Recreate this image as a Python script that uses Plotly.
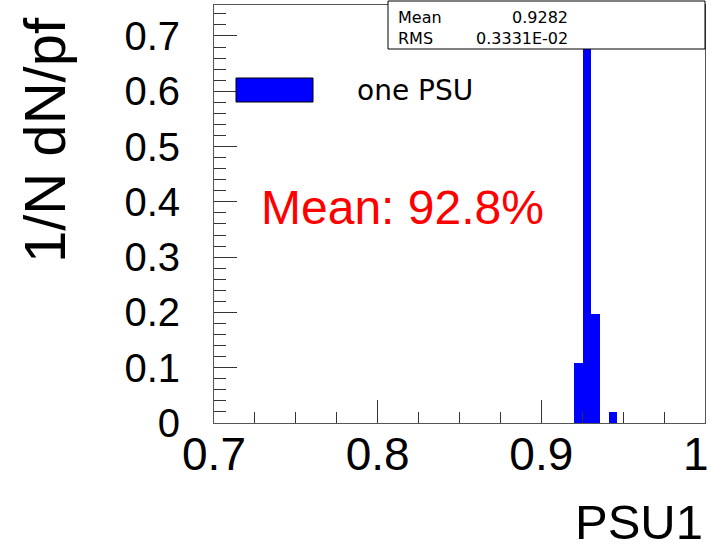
import plotly.graph_objects as go

# Normalised PSU1 distribution (1/N dN per bin)
bin_width = 0.00526
bin_lo = [0.92, 0.92526, 0.93053, 0.93579, 0.94105]
fraction = [0.108, 0.680, 0.198, 0.0, 0.019]
bin_centers = [lo + bin_width / 2 for lo in bin_lo]

stat_names = ["Mean", "RMS"]
stat_values = ["0.9282", "0.3331E-02"]
legend_label = "one PSU"
mean_label = "Mean: 92.8%"

# the label of the last x tick sits at the page edge and is placed separately
x_ticks = [0.7, 0.8, 0.9, 1.0]
x_ticktext = ["0.7", "0.8", "0.9", ""]
x_last_label = "1"
y_ticks = [0, 0.1, 0.2, 0.3, 0.4, 0.5, 0.6, 0.7]
y_ticktext = ["0", "0.1", "0.2", "0.3", "0.4", "0.5", "0.6", "0.7"]

W, H = 711, 548
ML, MR, MT, MB = 214, 6, 5, 125
PW, PH = W - ML - MR, H - MT - MB


def px(x):
    return (x - ML) / PW


def py(y):
    return (H - MB - y) / PH


fig = go.Figure()
fig.add_trace(go.Bar(
    x=bin_centers, y=fraction, width=bin_width,
    marker=dict(color="#0000ff", line=dict(width=0)),
    showlegend=False, hoverinfo="skip",
))

axis_common = dict(
    showline=True, linecolor="#555555", linewidth=1, mirror=True,
    showgrid=False, zeroline=False, ticks="inside", tickcolor="#333333",
    ticklen=23, tickwidth=1, ticklabeloverflow="allow", automargin=False,
)

fig.update_xaxes(
    range=[0.7, 1.00001], tickvals=x_ticks, ticktext=x_ticktext,
    tickfont=dict(family="Liberation Sans", size=46, color="black"),
    minor=dict(dtick=0.025, tick0=0.7, ticks="inside", ticklen=11.5,
               tickcolor="#333333", tickwidth=1),
    ticklabelstandoff=-9,
    **axis_common,
)
fig.update_yaxes(
    range=[0, 0.756], tickvals=y_ticks, ticktext=y_ticktext,
    tickfont=dict(family="Liberation Sans", size=40, color="black"),
    minor=dict(dtick=0.02, tick0=0, ticks="inside", ticklen=11.5,
               tickcolor="#333333", tickwidth=1),
    ticklabelstandoff=25,
    **axis_common,
)

shapes = [
    # statistics box
    dict(type="rect", xref="paper", yref="paper",
         x0=px(388), x1=px(705), y0=py(49), y1=py(1),
         fillcolor="white", line=dict(color="black", width=1), layer="above"),
    # legend swatch
    dict(type="rect", xref="paper", yref="paper",
         x0=px(236), x1=px(313), y0=py(102), y1=py(78),
         fillcolor="#0000ff", line=dict(color="black", width=1), layer="above"),
]

annotations = []
stat_rows = [17.5, 38]
for name, val, yrow in zip(stat_names, stat_values, stat_rows):
    annotations.append(dict(
        text=name, xref="paper", yref="paper", x=px(396), y=py(yrow),
        xanchor="left", yanchor="middle", showarrow=False,
        font=dict(family="DejaVu Sans", size=16, color="black")))
    annotations.append(dict(
        text=val, xref="paper", yref="paper", x=px(570), y=py(yrow),
        xanchor="right", yanchor="middle", showarrow=False,
        font=dict(family="DejaVu Sans", size=16, color="black")))

annotations += [
    dict(text=x_last_label, xref="paper", yref="paper", x=px(711), y=py(454),
         xanchor="right", yanchor="middle", showarrow=False,
         font=dict(family="Liberation Sans", size=46, color="black")),
    dict(text=legend_label, xref="paper", yref="paper", x=px(355), y=py(90),
         xanchor="left", yanchor="middle", showarrow=False,
         font=dict(family="DejaVu Sans", size=28, color="black")),
    dict(text=mean_label, xref="paper", yref="paper", x=px(259), y=py(207),
         xanchor="left", yanchor="middle", showarrow=False,
         font=dict(family="Liberation Sans", size=48, color="#ff0000")),
    dict(text="PSU1", xref="paper", yref="paper", x=px(705), y=py(522),
         xanchor="right", yanchor="middle", showarrow=False,
         font=dict(family="Liberation Sans", size=49, color="black")),
    dict(text="1/N dN/pf", xref="paper", yref="paper", x=px(45), y=py(140),
         xanchor="center", yanchor="middle", textangle=-90, showarrow=False,
         font=dict(family="Liberation Sans", size=58, color="black")),
]

fig.update_layout(
    width=W, height=H,
    margin=dict(l=ML, r=MR, t=MT, b=MB, autoexpand=False),
    paper_bgcolor="white", plot_bgcolor="white",
    bargap=0, showlegend=False,
    shapes=shapes, annotations=annotations,
)

fig.write_html("out.html")
